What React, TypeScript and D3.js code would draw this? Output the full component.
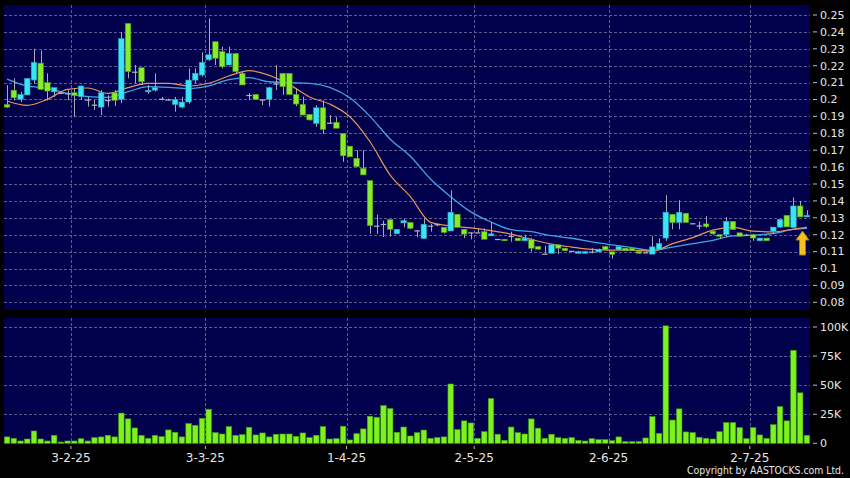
import { useEffect, useRef } from "react";
import * as d3 from "d3";

// daily OHLC (HKD)
const openP = [
  0.197, 0.2055, 0.2, 0.2027, 0.2115, 0.2215, 0.21, 0.2045, 0.204, 0.2037,
  0.204, 0.2017, 0.2, 0.197, 0.1955, 0.1997, 0.204, 0.2, 0.245, 0.2165,
  0.2188, 0.2045, 0.2055, 0.2005, 0.2, 0.197, 0.1955, 0.1985, 0.2115, 0.2145,
  0.2235, 0.2342, 0.2283, 0.2204, 0.2273, 0.2155, 0.2027, 0.203, 0.2, 0.2,
  0.2095, 0.2155, 0.2155, 0.203, 0.1971, 0.1912, 0.1858, 0.1951, 0.1863, 0.1865,
  0.18, 0.1724, 0.1652, 0.1593, 0.152, 0.1254, 0.1264, 0.1289, 0.1205, 0.127,
  0.1272, 0.1226, 0.1177, 0.1254, 0.1262, 0.1244, 0.1222, 0.1321, 0.1232, 0.1214,
  0.1214, 0.1218, 0.1193, 0.1175, 0.1173, 0.1193, 0.118, 0.1164, 0.1173, 0.113,
  0.1088, 0.109, 0.114, 0.112, 0.1105, 0.109, 0.109, 0.11, 0.1098, 0.113,
  0.1099, 0.111, 0.112, 0.112, 0.11, 0.1096, 0.1085, 0.1112, 0.118, 0.1321,
  0.1272, 0.1327, 0.1268, 0.1255, 0.1264, 0.1221, 0.12, 0.12, 0.1279, 0.1211,
  0.12, 0.12, 0.1164, 0.118, 0.1221, 0.1245, 0.1315, 0.1243, 0.137, 0.1305,
];
const highP = [
  0.2085, 0.2125, 0.2045, 0.2125, 0.23, 0.229, 0.2155, 0.207, 0.2045, 0.2055,
  0.2066, 0.2083, 0.2017, 0.1997, 0.2056, 0.2025, 0.2056, 0.2399, 0.245, 0.2204,
  0.2188, 0.2086, 0.2155, 0.2015, 0.2005, 0.2015, 0.2015, 0.2184, 0.2184, 0.228,
  0.248, 0.2342, 0.2312, 0.2312, 0.2273, 0.2165, 0.2037, 0.203, 0.2, 0.2076,
  0.2204, 0.2155, 0.2155, 0.2066, 0.2017, 0.1912, 0.1966, 0.1995, 0.1908, 0.1895,
  0.18, 0.1724, 0.17, 0.17, 0.152, 0.132, 0.1283, 0.1289, 0.1232, 0.1293,
  0.1272, 0.1226, 0.1297, 0.1264, 0.1262, 0.1244, 0.1463, 0.1321, 0.1232, 0.1214,
  0.1236, 0.1236, 0.1275, 0.1175, 0.1175, 0.1218, 0.118, 0.1199, 0.118, 0.113,
  0.1134, 0.114, 0.114, 0.1122, 0.1105, 0.1105, 0.1105, 0.112, 0.1118, 0.1134,
  0.1099, 0.113, 0.112, 0.112, 0.11, 0.1102, 0.1191, 0.1178, 0.1434, 0.1321,
  0.1404, 0.1327, 0.1268, 0.1278, 0.131, 0.1221, 0.12, 0.1305, 0.1279, 0.1211,
  0.1205, 0.1205, 0.118, 0.118, 0.1245, 0.129, 0.1315, 0.142, 0.14, 0.1345,
];
const lowP = [
  0.195, 0.1995, 0.1985, 0.2027, 0.2095, 0.2055, 0.1995, 0.2015, 0.2035, 0.1995,
  0.1898, 0.1997, 0.1958, 0.1938, 0.1908, 0.1958, 0.1962, 0.1978, 0.2125, 0.2096,
  0.2086, 0.2033, 0.2047, 0.1995, 0.1995, 0.1928, 0.1948, 0.1975, 0.2096, 0.2135,
  0.2228, 0.2204, 0.2184, 0.2204, 0.2155, 0.2086, 0.1997, 0.1997, 0.1967, 0.1958,
  0.2056, 0.2027, 0.2027, 0.196, 0.1908, 0.1875, 0.1838, 0.1796, 0.1858, 0.183,
  0.1631, 0.1661, 0.16, 0.1554, 0.1205, 0.1205, 0.1186, 0.1189, 0.1205, 0.1244,
  0.1232, 0.1186, 0.1177, 0.1218, 0.125, 0.1207, 0.1222, 0.1244, 0.118, 0.1173,
  0.1214, 0.1173, 0.1193, 0.1175, 0.1164, 0.1159, 0.1164, 0.1164, 0.11, 0.1114,
  0.1088, 0.109, 0.1085, 0.1105, 0.1105, 0.109, 0.109, 0.109, 0.1098, 0.111,
  0.1059, 0.111, 0.1105, 0.1105, 0.109, 0.109, 0.1085, 0.1112, 0.1164, 0.1232,
  0.1232, 0.1272, 0.1262, 0.1232, 0.124, 0.1199, 0.1175, 0.1185, 0.123, 0.1191,
  0.1195, 0.1164, 0.1164, 0.1164, 0.1207, 0.124, 0.1246, 0.1243, 0.1305, 0.1305,
];
const closeP = [
  0.1955, 0.201, 0.203, 0.2125, 0.222, 0.206, 0.205, 0.207, 0.204, 0.2037,
  0.2023, 0.208, 0.2, 0.197, 0.204, 0.1997, 0.1995, 0.236, 0.2165, 0.2165,
  0.2105, 0.2055, 0.207, 0.2005, 0.2, 0.2, 0.1985, 0.2115, 0.2155, 0.222,
  0.2265, 0.2244, 0.2194, 0.2273, 0.2165, 0.2086, 0.2027, 0.2, 0.2, 0.207,
  0.2095, 0.2076, 0.203, 0.1973, 0.1908, 0.1879, 0.1951, 0.1823, 0.1863, 0.183,
  0.1667, 0.1661, 0.1603, 0.1554, 0.1254, 0.1254, 0.1264, 0.1232, 0.1232, 0.1283,
  0.1238, 0.1226, 0.1262, 0.1254, 0.1262, 0.1214, 0.1333, 0.1244, 0.1203, 0.1214,
  0.1214, 0.1173, 0.1205, 0.1175, 0.1164, 0.1193, 0.1164, 0.118, 0.112, 0.1114,
  0.1088, 0.114, 0.112, 0.1105, 0.1105, 0.11, 0.11, 0.11, 0.1114, 0.111,
  0.1083, 0.113, 0.1105, 0.1105, 0.109, 0.1096, 0.1128, 0.1148, 0.1333, 0.1272,
  0.1333, 0.1272, 0.1268, 0.1255, 0.1248, 0.1205, 0.119, 0.1279, 0.123, 0.1191,
  0.12, 0.118, 0.118, 0.1164, 0.1245, 0.129, 0.1246, 0.137, 0.1305, 0.1315,
];
// volume in thousands of shares
const volumeK = [
  5.5, 4.3, 2, 3.7, 10.6, 3.7, 2, 6.9, 1.1, 2,
  2, 4, 2, 4.9, 5.5, 6.9, 5.5, 26, 21, 13.2,
  6.9, 4.3, 6.9, 5.7, 11.5, 9.5, 5.5, 17, 15.5, 21.5,
  29.3, 9.2, 8, 14.4, 6.9, 7.5, 13.8, 7.2, 8.9, 5.5,
  7.8, 8, 8, 6, 8.9, 4.9, 6.9, 14.4, 3.7, 4,
  14.7, 2.9, 8.3, 12.4, 23.3, 22.4, 32.5, 29.9, 9.5, 14,
  6.3, 9.2, 11.4, 4.3, 4.9, 5.5, 51, 11.8, 19.3, 17.5,
  4.3, 10, 38.5, 7.8, 2.6, 14, 9.2, 8, 21, 13,
  4.3, 7.8, 4.9, 4.3, 4.9, 2.6, 2, 4, 3.2, 3.2,
  2.3, 5.5, 1.4, 1.4, 1.4, 4.6, 23, 8.6, 101, 20,
  29.6, 9.8, 9.2, 5.2, 4.3, 3.7, 10, 17.8, 17.8, 13.5,
  4, 13.5, 7.2, 4.3, 16, 31.6, 19.3, 80, 43.4, 6.9,
];

// moving averages, read every third session
const maIdx = [
  0, 3, 6, 9, 12, 15, 18, 21, 24, 27, 30, 33, 36, 39, 42, 45, 48, 51, 54, 57,
  60, 63, 66, 69, 72, 75, 78, 81, 84, 87, 90, 93, 96, 99, 102, 105, 108, 111, 114, 117, 119,
];
const maShort = [
  0.1991, 0.1965, 0.2001, 0.206, 0.2068, 0.2036, 0.207, 0.2096, 0.2096, 0.208,
  0.2096, 0.2139, 0.2171, 0.2143, 0.2088, 0.2015, 0.1973, 0.1898, 0.175, 0.1553,
  0.1425, 0.1273, 0.1252, 0.124, 0.1224, 0.1203, 0.1172, 0.1144, 0.1127, 0.1113,
  0.1109, 0.1109, 0.1103, 0.1147, 0.1183, 0.1227, 0.1243, 0.1221, 0.1217, 0.1233, 0.1243,
];
const maLong = [
  0.2121, 0.208, 0.2066, 0.2036, 0.2017, 0.2013, 0.2046, 0.2076, 0.2072, 0.2064,
  0.208, 0.2117, 0.2129, 0.2105, 0.21, 0.2096, 0.2072, 0.201, 0.19, 0.1765,
  0.1664, 0.153, 0.1425, 0.1335, 0.1275, 0.123, 0.1218, 0.1194, 0.1179, 0.1157,
  0.114, 0.1124, 0.1107, 0.1127, 0.1147, 0.1167, 0.1193, 0.1197, 0.1207, 0.1231, 0.1237,
];

const dateTickIdx = [9, 29, 50, 69, 89, 110];
const dateTickLabels = ["3-2-25", "3-3-25", "1-4-25", "2-5-25", "2-6-25", "2-7-25"];
const priceTicks = [
  0.08, 0.09, 0.1, 0.11, 0.12, 0.13, 0.14, 0.15, 0.16, 0.17, 0.18, 0.19, 0.2,
  0.21, 0.22, 0.23, 0.24, 0.25,
];
const volTicks = [0, 25, 50, 75, 100];

const UP = "#38e4f6";
const DOWN = "#86ec2c";
const GRID = "#5c5c8e";
const PANEL = "#00004c";
const FONT = "DejaVu Sans, sans-serif";

const App = () => {
  const svgRef = useRef(null);

  useEffect(() => {
    const width = 850;
    const height = 478;
    const left = 4;
    const right = 810;

    const svg = d3.select(svgRef.current);
    svg.selectAll("*").remove();
    svg.attr("width", width).attr("height", height);

    svg.append("rect").attr("width", width).attr("height", height).attr("fill", "#000");

    const idx = d3.range(openP.length);
    const x = d3.scaleBand().domain(idx).range([left, right]).paddingInner(0.18).paddingOuter(0.05);
    const cx = (i) => x(i) + x.bandwidth() / 2;
    const half = x.step() / 2;

    const y = d3.scaleLinear().domain([0.08, 0.25]).range([302.3, 15]);
    const yv = d3.scaleLinear().domain([0, 100]).range([443.3, 327]);

    // panels
    svg.append("rect").attr("x", left).attr("y", 5).attr("width", right - left).attr("height", 305).attr("fill", PANEL);
    svg.append("rect").attr("x", left).attr("y", 318).attr("width", right - left).attr("height", 126).attr("fill", PANEL);

    // grid
    const grid = svg.append("g").attr("stroke", GRID).attr("stroke-dasharray", "3,2").attr("stroke-width", 1);
    grid.selectAll(".hp").data(priceTicks).enter().append("line")
      .attr("x1", left).attr("x2", right)
      .attr("y1", (d) => Math.round(y(d)) + 0.5).attr("y2", (d) => Math.round(y(d)) + 0.5);
    grid.selectAll(".hv").data(volTicks.slice(1)).enter().append("line")
      .attr("x1", left).attr("x2", right)
      .attr("y1", (d) => Math.round(yv(d)) + 0.5).attr("y2", (d) => Math.round(yv(d)) + 0.5);
    grid.selectAll(".vp").data(dateTickIdx).enter().append("line")
      .attr("x1", (d) => Math.round(cx(d) + half) + 0.5).attr("x2", (d) => Math.round(cx(d) + half) + 0.5)
      .attr("y1", 5).attr("y2", 310);
    grid.selectAll(".vv").data(dateTickIdx).enter().append("line")
      .attr("x1", (d) => Math.round(cx(d) + half) + 0.5).attr("x2", (d) => Math.round(cx(d) + half) + 0.5)
      .attr("y1", 318).attr("y2", 444);

    // volume bars
    svg.append("g").selectAll("rect").data(idx).enter().append("rect")
      .attr("x", (i) => x(i))
      .attr("y", (i) => yv(volumeK[i]))
      .attr("width", x.bandwidth())
      .attr("height", (i) => yv(0) - yv(volumeK[i]))
      .attr("fill", "#7ef21e")
      .attr("stroke", "#3f9a12")
      .attr("stroke-width", 0.6);

    // moving averages
    const line = d3.line().x((d) => cx(d[0])).y((d) => y(d[1])).curve(d3.curveMonotoneX);
    svg.append("path").datum(maIdx.map((i, k) => [i, maLong[k]]))
      .attr("d", line).attr("fill", "none").attr("stroke", "#3fa6e6").attr("stroke-width", 1.3);
    svg.append("path").datum(maIdx.map((i, k) => [i, maShort[k]]))
      .attr("d", line).attr("fill", "none").attr("stroke", "#e9925a").attr("stroke-width", 1.2);

    // candles
    const candles = svg.append("g");
    candles.selectAll(".wick").data(idx).enter().append("line")
      .attr("x1", (i) => Math.round(cx(i)) + 0.5).attr("x2", (i) => Math.round(cx(i)) + 0.5)
      .attr("y1", (i) => y(highP[i])).attr("y2", (i) => y(lowP[i]))
      .attr("stroke", "#a9a9b4").attr("stroke-width", 1);
    candles.selectAll(".body").data(idx).enter().append("rect")
      .attr("x", (i) => x(i))
      .attr("y", (i) => y(Math.max(openP[i], closeP[i])))
      .attr("width", x.bandwidth())
      .attr("height", (i) => Math.max(1.2, Math.abs(y(openP[i]) - y(closeP[i]))))
      .attr("fill", (i) => (closeP[i] > openP[i] ? UP : closeP[i] < openP[i] ? DOWN : "#b4b4c0"))
      .attr("stroke", (i) => (closeP[i] > openP[i] ? "#2aa0b4" : closeP[i] < openP[i] ? "#4f9a1a" : "none"))
      .attr("stroke-width", 0.6);

    // yellow arrow
    const ax = 802.5;
    const arrow = d3.path();
    arrow.moveTo(ax, 231);
    arrow.lineTo(ax + 6.5, 240);
    arrow.lineTo(ax + 3, 240);
    arrow.lineTo(ax + 3, 255);
    arrow.lineTo(ax - 3, 255);
    arrow.lineTo(ax - 3, 240);
    arrow.lineTo(ax - 6.5, 240);
    arrow.closePath();
    svg.append("path").attr("d", arrow.toString()).attr("fill", "#f6c21c").attr("stroke", "#a87a08").attr("stroke-width", 1);

    // right axes
    const ra = svg.append("g").attr("font-family", FONT).attr("font-size", 11).attr("fill", "#e6e6e6");
    ra.selectAll(".pt").data(priceTicks).enter().append("line")
      .attr("x1", 813).attr("x2", 817).attr("y1", (d) => y(d)).attr("y2", (d) => y(d)).attr("stroke", "#bbb");
    ra.selectAll(".pl").data(priceTicks).enter().append("text")
      .attr("x", 820).attr("y", (d) => y(d)).attr("dy", "0.35em")
      .text((d) => String(+d.toFixed(2)));
    ra.selectAll(".vt").data(volTicks).enter().append("line")
      .attr("x1", 813).attr("x2", 817).attr("y1", (d) => yv(d)).attr("y2", (d) => yv(d)).attr("stroke", "#bbb");
    ra.selectAll(".vl").data(volTicks).enter().append("text")
      .attr("x", 820).attr("y", (d) => yv(d)).attr("dy", "0.35em")
      .text((d) => (d === 0 ? "0" : `${d}K`));

    // date axis
    const da = svg.append("g").attr("font-family", FONT).attr("font-size", 12).attr("fill", "#e6e6e6");
    da.selectAll("line").data(dateTickIdx).enter().append("line")
      .attr("x1", (d) => cx(d) + half).attr("x2", (d) => cx(d) + half)
      .attr("y1", 446).attr("y2", 449).attr("stroke", "#bbb");
    da.selectAll("text").data(dateTickIdx).enter().append("text")
      .attr("x", (d) => cx(d) + half).attr("y", 458).attr("dy", "0.35em").attr("text-anchor", "middle")
      .text((d, k) => dateTickLabels[k]);

    svg.append("text").attr("x", 844).attr("y", 473.5).attr("text-anchor", "end")
      .attr("font-family", FONT).attr("font-size", 10).attr("fill", "#e6e6e6")
      .attr("textLength", 157).attr("lengthAdjust", "spacingAndGlyphs")
      .text("Copyright by AASTOCKS.com Ltd.");
  }, []);

  return (
    <div style={{ position: "absolute", left: 0, top: 0 }}>
      <svg ref={svgRef} style={{ display: "block" }}></svg>
    </div>
  );
};

export default App;
